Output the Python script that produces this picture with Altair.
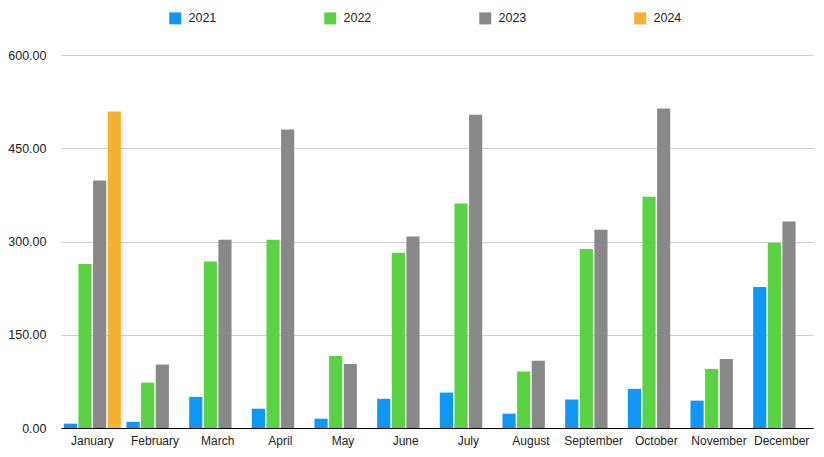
import altair as alt
import pandas as pd

months = ["January", "February", "March", "April", "May", "June", "July",
          "August", "September", "October", "November", "December"]
years = ["2021", "2022", "2023", "2024"]
v2021 = [7, 10, 50, 31, 15, 47, 57, 23, 46, 63, 44, 227]
v2022 = [264, 73, 268, 303, 116, 282, 361, 91, 288, 372, 95, 298]
v2023 = [398, 102, 303, 480, 103, 308, 504, 108, 319, 514, 111, 332]
v2024 = [509]
colors = ["#0F97F7", "#5AD343", "#888888", "#F6B22E"]
y_ticks = [0, 150, 300, 450, 600]

rows = []
for yr, vals in zip(years, [v2021, v2022, v2023, v2024]):
    for m, v in zip(months, vals):
        rows.append({"month": m, "year": yr, "value": v})
df = pd.DataFrame(rows)

FONT = "Liberation Sans"

chart = alt.Chart(df).mark_bar().encode(
    x=alt.X("month:N", sort=months, title=None,
            scale=alt.Scale(paddingInner=0.09, paddingOuter=0.045),
            axis=alt.Axis(labelAngle=0, ticks=False, tickSize=0, labelPadding=7,
                          domainColor="#000000", domainWidth=1.2,
                          labelFontSize=12, labelColor="#222222", labelFont=FONT,
                          grid=False)),
    xOffset=alt.XOffset("year:N", scale=alt.Scale(domain=years, paddingInner=0.1, paddingOuter=0)),
    y=alt.Y("value:Q", title=None,
            scale=alt.Scale(domain=[0, 600], nice=False),
            axis=alt.Axis(values=y_ticks, format=".2f", domain=False, ticks=False,
                          tickSize=0, labelPadding=15, gridColor="#cccccc",
                          gridWidth=1, labelFontSize=12.5, labelColor="#222222",
                          labelFont=FONT)),
    color=alt.Color("year:N", scale=alt.Scale(domain=years, range=colors),
                    legend=alt.Legend(title=None, orient="none", direction="horizontal",
                                      legendX=108, legendY=-43, symbolType="square",
                                      symbolSize=144, symbolStrokeWidth=0,
                                      labelOffset=7, labelFontSize=12.5, labelFont=FONT,
                                      labelColor="#222222", columnPadding=107,
                                      symbolOpacity=1)),
).properties(
    width=752, height=373,
    autosize=alt.AutoSizeParams(type="none"),
    padding={"left": 53, "top": 47, "right": 3, "bottom": 21},
).configure_view(stroke=None).configure_axisX(
    zindex=1
)

chart.save("out.html", embed_options={"renderer": "svg", "actions": False})
